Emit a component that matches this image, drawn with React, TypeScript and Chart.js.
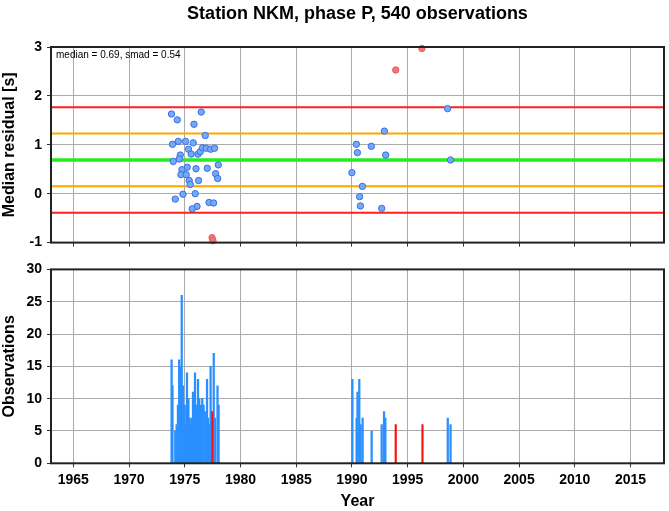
import { useEffect, useRef } from "react";
import { Chart, registerables } from "chart.js";

Chart.register(...registerables);

const FONT = "'Liberation Sans', Arial, Helvetica, sans-serif";

const chartTitle = "Station NKM, phase P, 540 observations";
const medianValue = 0.69;
const smadValue = 0.54;
const yearMin = 1963;
const yearMax = 2018;
const xTickYears = [1965, 1970, 1975, 1980, 1985, 1990, 1995, 2000, 2005, 2010, 2015];
const residualTicks = [-1, 0, 1, 2, 3];
const countTicks = [0, 5, 10, 15, 20, 25, 30];

// accepted residuals (blue points)
const goodYears = [
  1973.81, 1976.48, 1974.33, 1975.83, 1976.84, 1973.9, 1974.42, 1975.07, 1975.76, 1975.34,
  1975.58, 1976.19, 1976.39, 1976.6, 1976.93, 1977.32, 1977.68, 1974.6, 1974.51, 1973.97,
  1978.01, 1975.22, 1974.75, 1976.01, 1977.02, 1974.66, 1975.13, 1977.77, 1977.95, 1975.4,
  1976.24, 1975.49, 1974.84, 1975.94, 1974.15, 1977.18, 1977.59, 1976.1, 1975.67,
  1998.58, 1992.91, 1990.4, 1991.74, 1990.49, 1993.03, 1998.85, 1990.0, 1990.94, 1990.69,
  1990.76, 1992.67,
];
const goodResiduals = [
  1.63, 1.67, 1.51, 1.42, 1.19, 1.01, 1.07, 1.07, 1.04, 0.91,
  0.81, 0.81, 0.86, 0.94, 0.93, 0.91, 0.93, 0.79, 0.71, 0.66,
  0.59, 0.54, 0.49, 0.51, 0.52, 0.39, 0.39, 0.41, 0.31, 0.27,
  0.27, 0.19, -0.01, 0.0, -0.11, -0.18, -0.19, -0.26, -0.31,
  1.74, 1.28, 1.01, 0.97, 0.84, 0.79, 0.69, 0.43, 0.15, -0.06,
  -0.25, -0.3,
];

// outlier residuals (red points)
const outlierYears = [1977.45, 1977.53, 1993.93, 1996.28];
const outlierResiduals = [-0.9, -0.96, 2.53, 2.97];

// observation counts (blue bars)
const countYears = [
  1973.82, 1973.9, 1974.15, 1974.27, 1974.39, 1974.5, 1974.6, 1974.73, 1974.84, 1975.0,
  1975.1, 1975.2, 1975.33, 1975.45, 1975.55, 1975.65, 1975.74, 1975.92, 1976.06, 1976.19,
  1976.3, 1976.46, 1976.57, 1976.69, 1976.84, 1977.0, 1977.1, 1977.2, 1977.32, 1977.6,
  1977.72, 1977.94, 1978.04,
  1990.04, 1990.42, 1990.5, 1990.66, 1990.78, 1990.96, 1991.77, 1992.67, 1992.88, 1993.0,
  1998.6, 1998.85,
];
const countValues = [
  16, 12, 5, 6, 9, 16, 15, 26, 12, 9,
  6, 14, 10, 7, 6, 7, 11, 14, 9, 13,
  10, 9, 10, 9, 8, 13, 7, 6, 15, 17,
  7, 12, 9,
  13, 7, 11, 13, 6, 7, 5, 6, 8, 7,
  7, 6,
];

// outlier counts (red bars)
const outlierCountYears = [1977.47, 1993.93, 1996.33];
const outlierCountValues = [8, 6, 6];

const fixedTicks = (values: number[]) => (scale: any) => {
  scale.ticks = values.map((v) => ({ value: v }));
};

const framePlugin = {
  id: "frame",
  afterDatasetsDraw(chart: any) {
    const { ctx, chartArea } = chart;
    const { left, top, right, bottom } = chartArea;
    ctx.save();
    ctx.strokeStyle = "#222";
    ctx.lineWidth = 2;
    ctx.strokeRect(left, top, right - left, bottom - top);
    ctx.restore();
  },
};

const statsLabelPlugin = {
  id: "statsLabel",
  afterDraw(chart: any) {
    const { ctx, chartArea } = chart;
    ctx.save();
    ctx.fillStyle = "#000";
    ctx.font = `10px ${FONT}`;
    ctx.textBaseline = "alphabetic";
    ctx.textAlign = "left";
    ctx.fillText(
      `median = ${medianValue.toFixed(2)}, smad = ${smadValue.toFixed(2)}`,
      chartArea.left + 5,
      chartArea.top + 11
    );
    ctx.restore();
  },
};

const gridStyle = { color: "#ababab", lineWidth: 1, tickLength: 4, tickColor: "#333" };
const tickFont = { family: FONT, size: 14, weight: "bold" as const };
const axisTitleFont = { family: FONT, size: 16, weight: "bold" as const };

export default function App() {
  const topRef = useRef<HTMLCanvasElement | null>(null);
  const bottomRef = useRef<HTMLCanvasElement | null>(null);

  useEffect(() => {
    if (!topRef.current || !bottomRef.current) return;

    const levels = [
      { v: medianValue + 2 * smadValue, c: "#ff1f1f", w: 2 },
      { v: medianValue + smadValue, c: "#ffa500", w: 2 },
      { v: medianValue, c: "#22ee22", w: 3.5 },
      { v: medianValue - smadValue, c: "#ffa500", w: 2 },
      { v: medianValue - 2 * smadValue, c: "#ff1f1f", w: 2 },
    ];

    const top = new Chart(topRef.current, {
      type: "scatter",
      data: {
        datasets: [
          {
            label: "accepted",
            data: goodYears.map((x, i) => ({ x, y: goodResiduals[i] })),
            backgroundColor: "#74a9f4",
            borderColor: "#3c6de8",
            borderWidth: 1,
            pointRadius: 3.2,
            order: 0,
            clip: false,
          } as any,
          {
            label: "outliers",
            data: outlierYears.map((x, i) => ({ x, y: outlierResiduals[i] })),
            backgroundColor: "#f37575",
            borderColor: "#ee5a5a",
            borderWidth: 1,
            pointRadius: 3.2,
            order: 0,
            clip: false,
          } as any,
          ...levels.map(
            (l) =>
              ({
                type: "line",
                label: "level",
                data: [
                  { x: yearMin, y: l.v },
                  { x: yearMax, y: l.v },
                ],
                borderColor: l.c,
                borderWidth: l.w,
                pointRadius: 0,
                showLine: true,
                order: 2,
              } as any)
          ),
        ],
      },
      options: {
        animation: false,
        responsive: false,
        maintainAspectRatio: false,
        layout: { padding: { left: 0, right: 5, top: 0, bottom: 0 } },
        plugins: {
          legend: { display: false },
          tooltip: { enabled: false },
          title: {
            display: true,
            text: chartTitle,
            fullSize: false,
            color: "#000",
            font: { family: FONT, size: 18, weight: "bold" },
            padding: { top: 3, bottom: 22.4 },
          },
        },
        scales: {
          x: {
            type: "linear",
            min: yearMin,
            max: yearMax,
            afterBuildTicks: fixedTicks(xTickYears),
            ticks: { display: false },
            grid: gridStyle,
            border: { display: false },
            afterFit: (s: any) => {
              s.height = 8;
            },
          },
          y: {
            type: "linear",
            min: -1,
            max: 3,
            afterBuildTicks: fixedTicks(residualTicks),
            ticks: { font: tickFont, color: "#000", padding: 5 },
            grid: gridStyle,
            border: { display: false },
            title: {
              display: true,
              text: "Median residual [s]",
              color: "#000",
              font: axisTitleFont,
              padding: { top: 0, bottom: 0 },
            },
            afterFit: (s: any) => {
              s.width = 51;
            },
          },
        },
      },
      plugins: [framePlugin, statsLabelPlugin],
    });

    const bottom = new Chart(bottomRef.current, {
      type: "bar",
      data: {
        datasets: [
          {
            label: "outlier observations",
            data: outlierCountYears.map((x, i) => ({ x, y: outlierCountValues[i] })),
            backgroundColor: "#ff1010",
            barThickness: 1.5,
            grouped: false,
            order: 0,
          } as any,
          {
            label: "observations",
            data: countYears.map((x, i) => ({ x, y: countValues[i] })),
            backgroundColor: "#2a90ff",
            barThickness: 1.6,
            grouped: false,
            order: 1,
          } as any,
        ],
      },
      options: {
        animation: false,
        responsive: false,
        maintainAspectRatio: false,
        layout: { padding: { left: 0, right: 5, top: 6, bottom: 0 } },
        plugins: {
          legend: { display: false },
          tooltip: { enabled: false },
        },
        scales: {
          x: {
            type: "linear",
            min: yearMin,
            max: yearMax,
            offset: false,
            afterBuildTicks: fixedTicks(xTickYears),
            ticks: {
              font: tickFont,
              color: "#000",
              padding: 4,
              maxRotation: 0,
              autoSkip: false,
              callback: (v: any) => String(v),
            },
            grid: { ...gridStyle, offset: false },
            border: { display: false },
            title: {
              display: true,
              text: "Year",
              color: "#000",
              font: axisTitleFont,
              padding: { top: 0, bottom: 0 },
            },
            afterFit: (s: any) => {
              s.height = 47.7;
            },
          } as any,
          y: {
            type: "linear",
            min: 0,
            max: 30,
            afterBuildTicks: fixedTicks(countTicks),
            ticks: { font: tickFont, color: "#000", padding: 5 },
            grid: gridStyle,
            border: { display: false },
            title: {
              display: true,
              text: "Observations",
              color: "#000",
              font: axisTitleFont,
              padding: { top: 0, bottom: 0 },
            },
            afterFit: (s: any) => {
              s.width = 51;
            },
          },
        },
      },
      plugins: [framePlugin],
    });

    return () => {
      top.destroy();
      bottom.destroy();
    };
  }, []);

  return (
    <div style={{ position: "absolute", left: 0, top: 0, width: 669, height: 511, background: "#fff" }}>
      <canvas
        ref={topRef}
        width={669}
        height={256}
        style={{ position: "absolute", left: 0, top: 0, width: 669, height: 256 }}
      />
      <canvas
        ref={bottomRef}
        width={669}
        height={255}
        style={{ position: "absolute", left: 0, top: 256, width: 669, height: 255 }}
      />
    </div>
  );
}
